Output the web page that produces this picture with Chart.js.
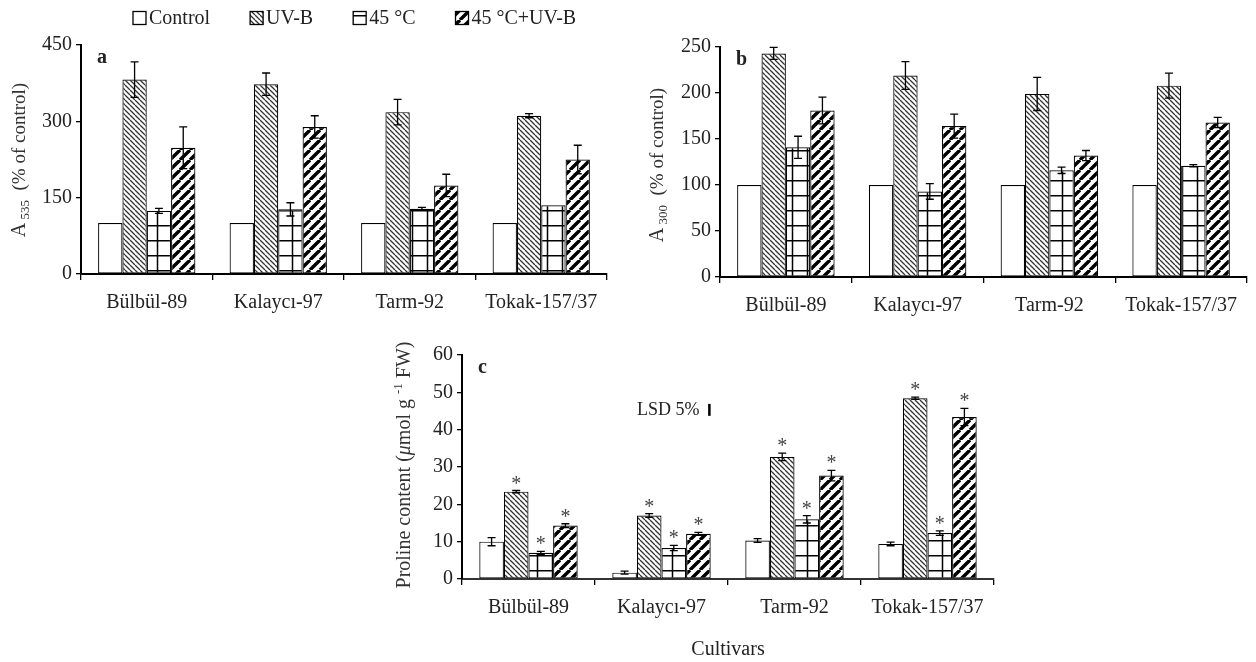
<!DOCTYPE html>
<html>
<head>
<meta charset="utf-8">
<script src="https://cdn.jsdelivr.net/npm/chart.js@4.4.0/dist/chart.umd.min.js"></script>
<style>
  body { margin: 0; background: #fff; width: 1256px; height: 662px; position: relative; overflow: hidden; }
  canvas { position: absolute; }
</style>
</head>
<body>
<canvas id="pa" width="620" height="320" style="left:0;top:0"></canvas>
<canvas id="pb" width="636" height="320" style="left:620px;top:0"></canvas>
<canvas id="pc" width="620" height="332" style="left:380px;top:330px"></canvas>
<script>
const cultivars = ['Bülbül-89', 'Kalaycı-97', 'Tarm-92', 'Tokak-157/37'];
const treatments = ['Control', 'UV-B', '45 °C', '45 °C+UV-B'];

// a: A535 (% of control)
const a535Control = [100, 100, 100, 100];
const a535UVB = [382, 373, 318, 311];
const a535Heat = [124, 127, 128, 135];
const a535HeatUVB = [248, 289, 174, 225];
const a535ErrUVB = [35, 22, 25, 4];
const a535ErrHeat = [5, 13, 3, 0];
const a535ErrHeatUVB = [41, 22, 22, 28];

// b: A300 (% of control)
const a300Control = [100, 100, 100, 100];
const a300UVB = [243, 219, 199, 208];
const a300Heat = [141, 93, 116, 121];
const a300HeatUVB = [181, 164, 132, 168];
const a300ErrUVB = [6.5, 15, 18, 13.5];
const a300ErrHeat = [12, 8.5, 3.5, 1.2];
const a300ErrHeatUVB = [14.5, 13, 5.5, 5.5];

// c: proline content (umol g-1 FW)
const prolineControl = [10.0, 1.7, 10.3, 9.4];
const prolineUVB = [23.4, 17.0, 32.7, 48.4];
const prolineHeat = [7.0, 8.3, 16.0, 12.3];
const prolineHeatUVB = [14.3, 12.1, 27.7, 43.4];
const prolineErrControl = [1.1, 0.4, 0.5, 0.5];
const prolineErrUVB = [0.3, 0.5, 1.0, 0.3];
const prolineErrHeat = [0.4, 0.7, 1.0, 0.6];
const prolineErrHeatUVB = [0.5, 0.4, 1.4, 2.3];
const lsd5 = 3.2;       // length of the LSD bar
const lsdLevel = 45.3;  // where it sits on the y scale

const FONT = '"Liberation Serif", "Times New Roman", serif';
Chart.defaults.font.family = FONT;
Chart.defaults.color = '#222';

function makePatterns(ctx) {
  function tile(s, draw) {
    const t = document.createElement('canvas');
    t.width = s; t.height = s;
    const g = t.getContext('2d');
    g.fillStyle = '#fff';
    g.fillRect(0, 0, s, s);
    g.strokeStyle = '#000';
    draw(g, s);
    return ctx.createPattern(t, 'repeat');
  }
  return {
    // thin "\\\" hatching (UV-B)
    thin: tile(5, (g, s) => {
      g.strokeStyle = '#333';
      g.lineWidth = 1.3;
      g.beginPath();
      for (const k of [-s, 0, s]) { g.moveTo(k, 0); g.lineTo(k + s, s); }
      g.stroke();
    }),
    // squares (45 °C)
    grid: tile(15, (g, s) => {
      g.lineWidth = 1.5;
      g.beginPath();
      g.moveTo(0, 0.75); g.lineTo(s, 0.75);
      g.moveTo(s / 2, 0); g.lineTo(s / 2, s);
      g.stroke();
    }),
    // heavy "///" stripes (45 °C+UV-B)
    thick: tile(10, (g, s) => {
      g.lineWidth = 3.4;
      g.beginPath();
      for (const k of [-s, 0, s]) { g.moveTo(k, s); g.lineTo(k + s, 0); }
      g.stroke();
    })
  };
}

// error bars (and significance stars) from dataset.errors
const errorBars = {
  id: 'errorBars',
  afterDatasetsDraw(chart) {
    const ctx = chart.ctx;
    const y = chart.scales.y;
    ctx.save();
    chart.data.datasets.forEach((ds, i) => {
      const meta = chart.getDatasetMeta(i);
      meta.data.forEach((bar, j) => {
        const v = ds.data[j];
        const e = ds.errors ? ds.errors[j] : 0;
        const top = y.getPixelForValue(v + e);
        if (e > 0) {
          const bot = y.getPixelForValue(v - e);
          ctx.strokeStyle = '#000';
          ctx.lineWidth = 1.3;
          ctx.beginPath();
          ctx.moveTo(bar.x, top); ctx.lineTo(bar.x, bot);
          ctx.moveTo(bar.x - 4, top); ctx.lineTo(bar.x + 4, top);
          ctx.moveTo(bar.x - 4, bot); ctx.lineTo(bar.x + 4, bot);
          ctx.stroke();
        }
        if (ds.star) {
          ctx.fillStyle = '#444';
          ctx.font = '20px ' + FONT;
          ctx.textAlign = 'center';
          ctx.textBaseline = 'alphabetic';
          ctx.fillText('*', bar.x, top - 1);
        }
      });
    });
    ctx.restore();
  }
};

// rotated y title with sub/superscripts, panel letter, LSD note
const decorations = {
  id: 'decorations',
  afterDraw(chart, args, o) {
    const ctx = chart.ctx;
    ctx.save();
    if (o.title) {
      const t = o.title;
      ctx.save();
      ctx.translate(t.x, t.y);
      ctx.rotate(-Math.PI / 2);
      ctx.fillStyle = '#333';
      ctx.textBaseline = 'alphabetic';
      const fonts = t.parts.map(p => (p.italic ? 'italic ' : '') + p.size + 'px ' + FONT);
      let total = 0;
      t.parts.forEach((p, i) => { ctx.font = fonts[i]; total += ctx.measureText(p.text).width; });
      let x = -total / 2;
      t.parts.forEach((p, i) => {
        ctx.font = fonts[i];
        ctx.fillText(p.text, x, p.dy || 0);
        x += ctx.measureText(p.text).width;
      });
      ctx.restore();
    }
    if (o.letter) {
      ctx.font = 'bold 20px ' + FONT;
      ctx.fillStyle = '#222';
      ctx.textBaseline = 'middle';
      ctx.fillText(o.letter, chart.chartArea.left + 16, chart.chartArea.top + 13);
    }
    if (o.legend) {
      ctx.font = '20px ' + FONT;
      ctx.textBaseline = 'middle';
      let x = o.legend.x;
      const yy = o.legend.y;
      chart.data.datasets.forEach(ds => {
        ctx.fillStyle = ds.backgroundColor;
        ctx.fillRect(x, yy - 6.5, 13, 13);
        ctx.strokeStyle = '#000';
        ctx.lineWidth = 1.3;
        ctx.strokeRect(x, yy - 6.5, 13, 13);
        ctx.fillStyle = '#222';
        ctx.fillText(ds.label, x + 16, yy + 1);
        x += 16 + ctx.measureText(ds.label).width + o.legend.gap;
      });
    }
    if (o.lsd) {
      const xs = chart.scales.x, ys = chart.scales.y;
      const cw = xs.getPixelForValue(1) - xs.getPixelForValue(0);
      const bx = xs.getPixelForValue(1) + 0.36 * cw;
      const y1 = ys.getPixelForValue(lsdLevel + lsd5 / 2);
      const y2 = ys.getPixelForValue(lsdLevel - lsd5 / 2);
      ctx.strokeStyle = '#000';
      ctx.lineWidth = 2.5;
      ctx.beginPath(); ctx.moveTo(bx, y1); ctx.lineTo(bx, y2); ctx.stroke();
      ctx.font = '18px ' + FONT;
      ctx.fillStyle = '#222';
      ctx.textAlign = 'right';
      ctx.textBaseline = 'middle';
      ctx.fillText('LSD 5%', bx - 10, (y1 + y2) / 2);
    }
    ctx.restore();
  }
};

function panel(id, cfg) {
  const canvas = document.getElementById(id);
  const ctx = canvas.getContext('2d');
  const pat = makePatterns(ctx);
  const fills = ['#fff', pat.thin, pat.grid, pat.thick];
  const area = cfg.area;
  return new Chart(ctx, {
    type: 'bar',
    data: {
      labels: cultivars,
      datasets: cfg.series.map((s, i) => ({
        label: treatments[i],
        data: s,
        errors: cfg.errors[i],
        star: !!cfg.stars && i > 0,
        backgroundColor: fills[i],
        borderColor: '#000',
        borderWidth: 1.2,
        borderSkipped: false,
        categoryPercentage: 0.74,
        barPercentage: 1
      }))
    },
    options: {
      responsive: false,
      animation: false,
      devicePixelRatio: 1,
      layout: { padding: { left: 0, top: area.top, right: canvas.width - area.right, bottom: 0 } },
      plugins: {
        legend: { display: false },
        tooltip: { enabled: false },
        decorations: { title: cfg.title, letter: cfg.letter, legend: cfg.legend, lsd: cfg.lsd }
      },
      scales: {
        x: {
          grid: { display: true, drawOnChartArea: false, drawTicks: true, tickLength: 6, color: '#000', lineWidth: 1.3, offset: true },
          border: { display: true, color: cfg.axisColor || '#000', width: 2 },
          ticks: { font: { size: 20 }, color: '#222', padding: 11, maxRotation: 0, autoSkip: false },
          title: cfg.xTitle ? { display: true, text: cfg.xTitle, font: { size: 20 }, color: '#222', padding: 0 } : { display: false },
          afterFit: s => { s.height = canvas.height - area.bottom; }
        },
        y: {
          min: 0,
          max: cfg.max,
          grid: { display: true, drawOnChartArea: false, drawTicks: true, tickLength: 5, color: '#000', lineWidth: 1.3 },
          border: { display: true, color: '#000', width: 2 },
          ticks: { stepSize: cfg.step, font: { size: 20 }, color: '#222', padding: 4 },
          afterFit: s => { s.width = area.left; }
        }
      }
    },
    plugins: [errorBars, decorations]
  });
}

panel('pa', {
  area: { left: 81, right: 607, top: 45, bottom: 274 },
  max: 450, step: 150,
  series: [a535Control, a535UVB, a535Heat, a535HeatUVB],
  errors: [null, a535ErrUVB, a535ErrHeat, a535ErrHeatUVB],
  letter: 'a',
  legend: { x: 133, y: 18, gap: 40 },
  title: { x: 25, y: 160, parts: [
    { text: 'A', size: 20 }, { text: ' 535', size: 13, dy: 4 }, { text: '  (% of control)', size: 19 }
  ] }
});

panel('pb', {
  area: { left: 100, right: 627, top: 47, bottom: 277 },
  max: 250, step: 50,
  series: [a300Control, a300UVB, a300Heat, a300HeatUVB],
  errors: [null, a300ErrUVB, a300ErrHeat, a300ErrHeatUVB],
  letter: 'b',
  title: { x: 43, y: 165, parts: [
    { text: 'A', size: 20 }, { text: ' 300', size: 13, dy: 4 }, { text: '  (% of control)', size: 19 }
  ] }
});

panel('pc', {
  area: { left: 82, right: 614, top: 25, bottom: 249 },
  max: 60, step: 10,
  series: [prolineControl, prolineUVB, prolineHeat, prolineHeatUVB],
  errors: [prolineErrControl, prolineErrUVB, prolineErrHeat, prolineErrHeatUVB],
  stars: true,
  letter: 'c',
  lsd: true,
  xTitle: 'Cultivars',
  axisColor: '#333',
  title: { x: 30, y: 135, parts: [
    { text: 'Proline content (', size: 20 }, { text: 'μ', size: 20, italic: true },
    { text: 'mol g ', size: 20 }, { text: '-1', size: 13, dy: -8 }, { text: ' FW)', size: 20 }
  ] }
});
</script>
</body>
</html>
